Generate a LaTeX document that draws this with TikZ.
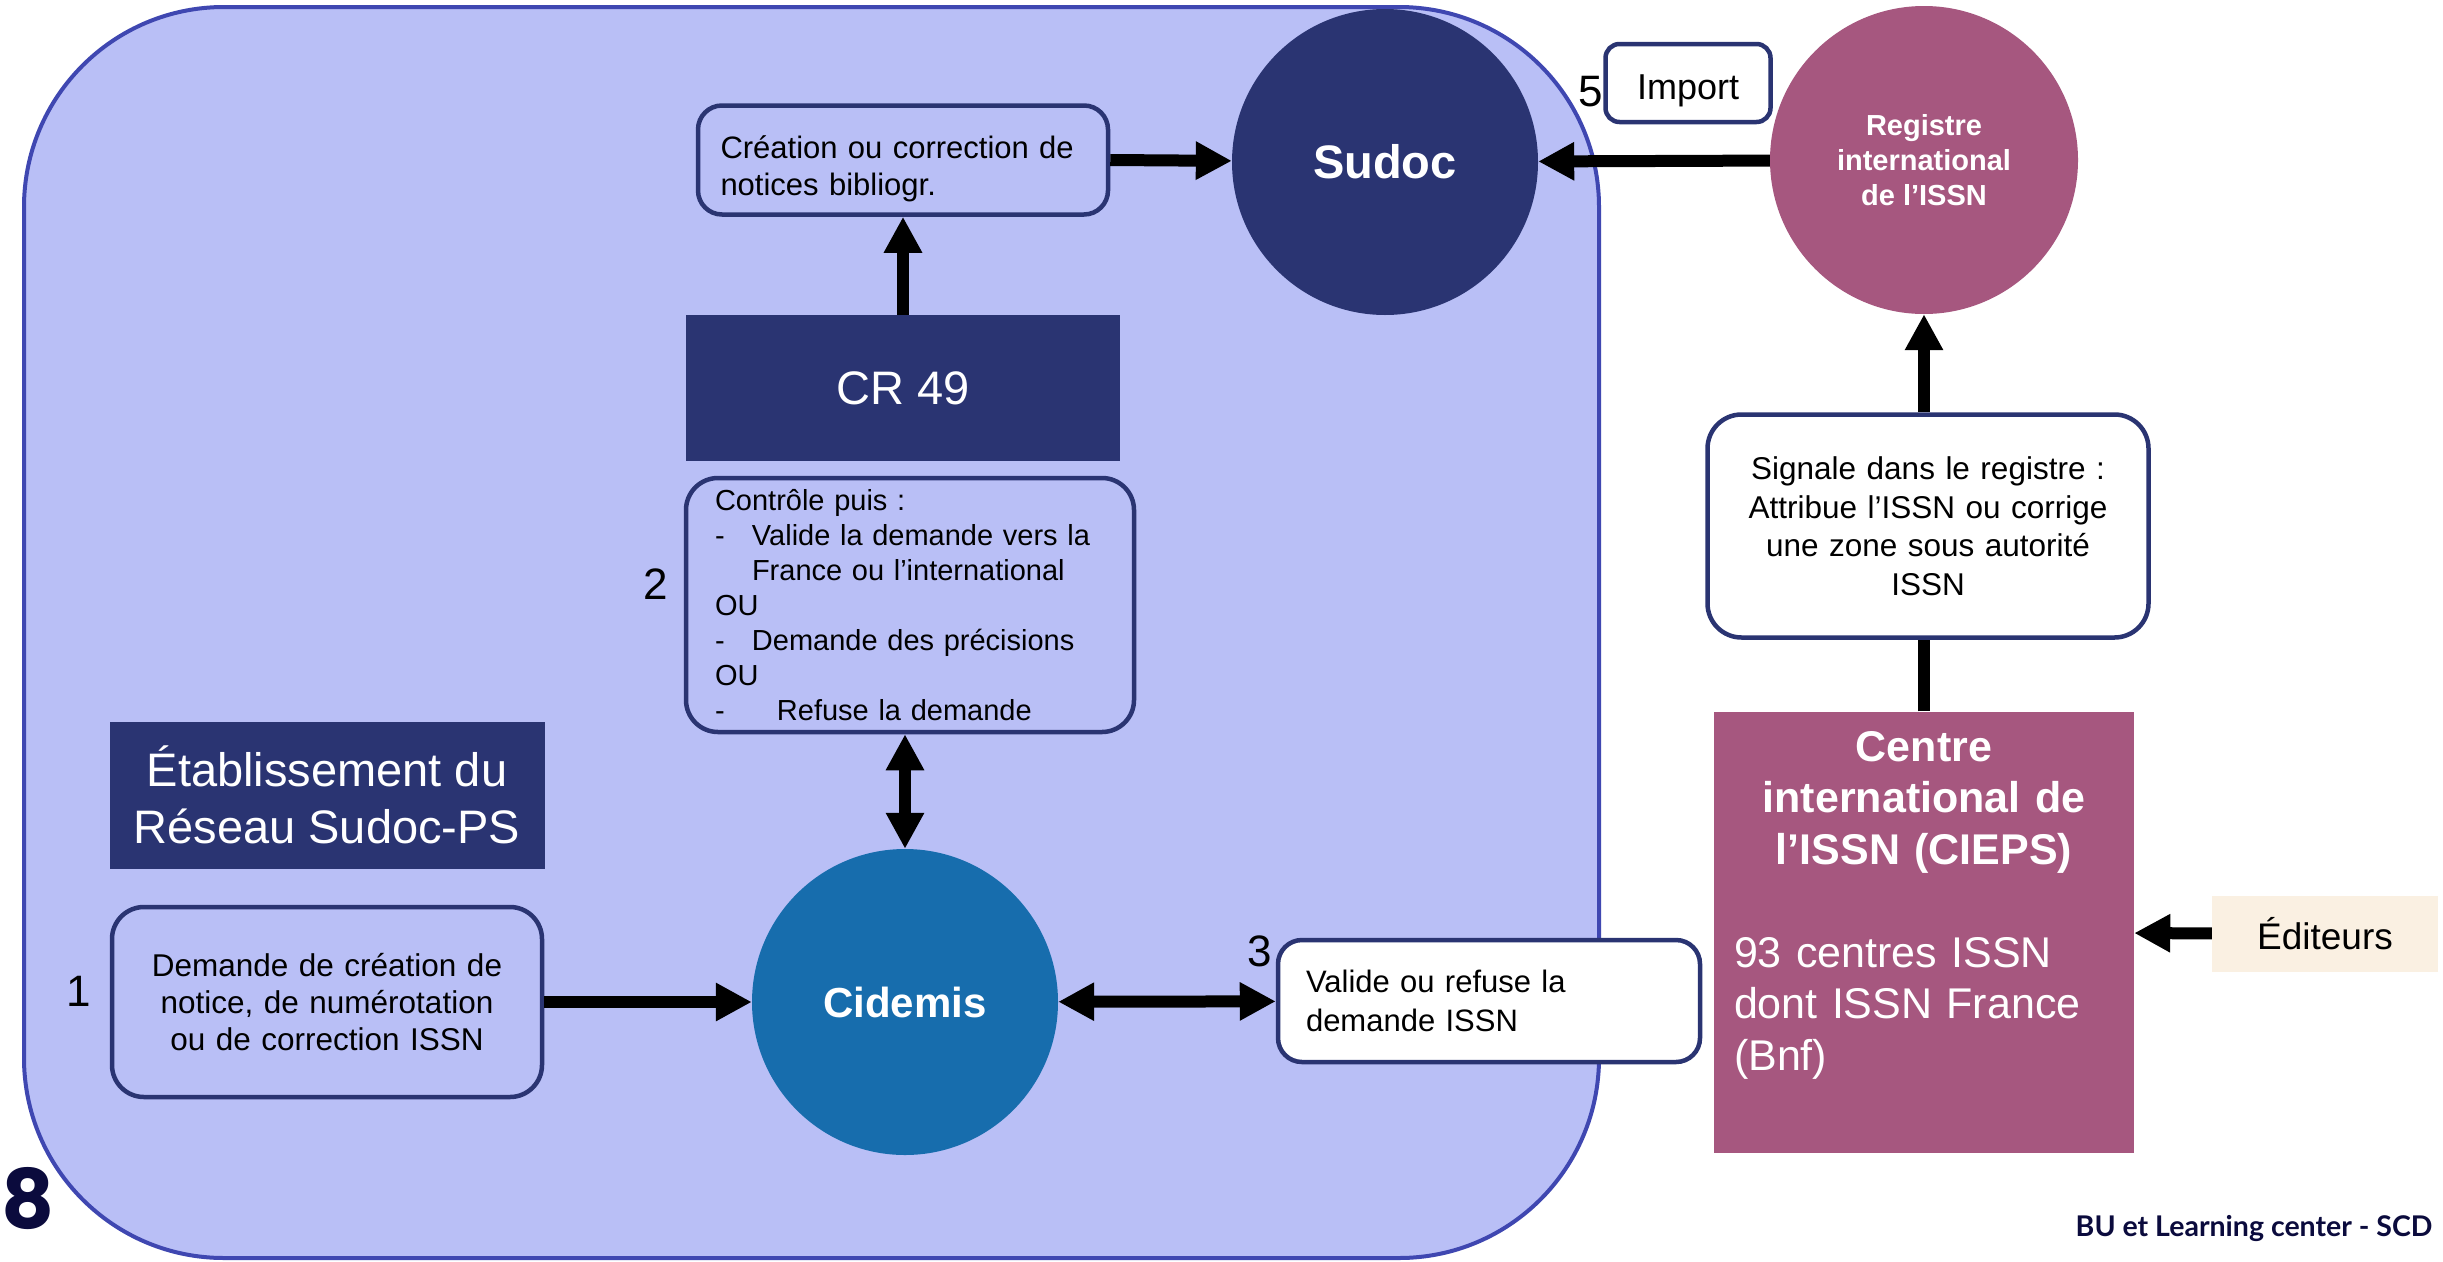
\documentclass[tikz,border=0pt]{standalone}
\usepackage{fontspec}
\setmainfont{Liberation Sans}
\newfontfamily\numfont{Poppins}
\newfontfamily\footfont{Lato}
\usetikzlibrary{arrows.meta}

\definecolor{zonefill}{HTML}{B9BFF6}
\definecolor{zoneline}{HTML}{3F47B1}
\definecolor{navy}{HTML}{2A3472}
\definecolor{cidemisblue}{HTML}{176DAD}
\definecolor{mauve}{HTML}{A6577F}
\definecolor{cream}{HTML}{FAF0E2}
\definecolor{ink}{HTML}{0B0B3D}

\newcommand{\sz}[2]{\fontsize{#1}{#2}\selectfont}
\newcommand{\tiret}[1][37pt]{\makebox[#1][l]{-}}

\tikzset{
  bubble/.style={circle,minimum size=306pt,inner sep=0pt,text=white,align=center},
  plate/.style={fill=navy,text=white,inner sep=0pt,align=center},
  card/.style={draw=navy,line width=4.5pt,rounded corners=24pt,inner ysep=0pt},
  num/.style={font=\sz{44}{50}},
  arr/.style={line width=12pt,-{Triangle[length=36pt,width=36pt]}},
  arrboth/.style={line width=12pt,{Triangle[length=36pt,width=36pt]}-{Triangle[length=36pt,width=36pt]}},
}

\begin{document}
\begin{tikzpicture}[x=1pt,y=-1pt]
\fill [white] (0,0) rectangle (2443,1261);
\useasboundingbox (0,0) rectangle (2443,1261);
\draw [fill=zonefill,draw=zoneline,line width=4pt,rounded corners=200pt] (24,7) rectangle (1599,1258);

\node [card,fill=zonefill,text width=365pt,inner xsep=22.5pt,minimum height=109pt,align=left,font=\sz{31}{37.5}] (creation) at (903,160) {\rule{0pt}{40pt}Création ou correction de\\ notices bibliogr.};
\node [bubble,fill=navy,font=\bfseries\sz{47}{56}] (sudoc) at (1385,162) {Sudoc};
\node [bubble,fill=mauve,minimum size=308pt,font=\bfseries\sz{29}{35}] (registre) at (1924,160) {Registre\\ international\\ de l’ISSN};
\node [card,fill=white,rounded corners=14pt,minimum width=165pt,minimum height=78pt,text height=32pt,text depth=0pt,font=\sz{36}{40}] (import) at (1688,83) {Import};
\node [num] (n5) at (1591,92) {5};

\node [plate,minimum width=434pt,minimum height=146pt,font=\sz{47}{56}] (cr49) at (903,388) {CR 49};
\node [card,fill=zonefill,rounded corners=32pt,text width=390pt,inner xsep=29pt,minimum height=254pt,align=left,font=\sz{29}{35}] (controle) at (910,605)
  {Contrôle puis :\\ \tiret Valide la demande vers la\\ \hspace*{37pt}France ou l’international\\ OU\\ \tiret Demande des précisions\\ OU\\ \tiret[62pt]Refuse la demande};
\node [num] (n2) at (656,584) {2};

\node [bubble,fill=cidemisblue,font=\bfseries\sz{42}{50}] (cidemis) at (905,1002) {Cidemis};
\node [plate,minimum width=435pt,minimum height=147pt,font=\sz{47}{57}] (etab) at (327,795) {Établissement du\\ Réseau Sudoc-PS};
\node [card,fill=zonefill,rounded corners=32pt,text width=390pt,inner xsep=20pt,minimum height=190pt,align=center,font=\sz{31.5}{37}] (demande) at (327,1002) {Demande de création de\\ notice, de numérotation\\ ou de correction ISSN};
\node [num] (n1) at (79,991) {1};
\node [card,fill=white,rounded corners=24pt,text width=366pt,inner xsep=28pt,minimum height=122pt,align=left,font=\sz{31}{39}] (valide) at (1489,1001) {Valide ou refuse la\\ demande ISSN};
\node [num] (n3) at (1260,951) {3};

\node [fill=mauve,text=white,minimum width=420pt,minimum height=441pt,text width=380pt,inner xsep=20pt,inner ysep=0pt,align=left,font=\sz{43}{51.5}] (centre) at (1924,932)
  {{\centering\bfseries Centre\\ international de\\ l’ISSN (CIEPS)\par}\vspace*{51.5pt}\noindent 93 centres ISSN\\ dont ISSN France\\ (Bnf)\par\vspace*{54pt}};
\node [card,fill=white,rounded corners=34pt,text width=400pt,inner xsep=20.5pt,minimum height=223pt,align=center,font=\sz{31.5}{38.5}] (signale) at (1928,526) {Signale dans le registre :\\ Attribue l’ISSN ou corrige\\ une zone sous autorité\\ ISSN};
\node [fill=cream,minimum width=226pt,minimum height=76pt,font=\sz{37}{44}] (editeurs) at (2325,934) {Éditeurs};

\node [text=ink,font=\numfont\bfseries\sz{82}{90}] (page) at (28,1199) {8};
\node [text=ink,anchor=east,font=\footfont\bfseries\sz{28.5}{33}] (credit) at (2436,1228) {BU et Learning center - SCD};

\draw [arr] (creation.east) -- (sudoc);
\draw [arr] (registre) -- (sudoc);
\draw [arr] (cr49) -- (creation);
\draw [arrboth] (cidemis) -- (cidemis |- controle.south);
\draw [arr] (demande) -- (cidemis);
\draw [arrboth] (cidemis) -- (valide);
\draw [line width=12pt] (centre.north) -- (centre.north |- signale.south);
\draw [arr] (registre |- signale.north) -- (registre);
\draw [arr] (editeurs) -- (centre);
\end{tikzpicture}
\end{document}
